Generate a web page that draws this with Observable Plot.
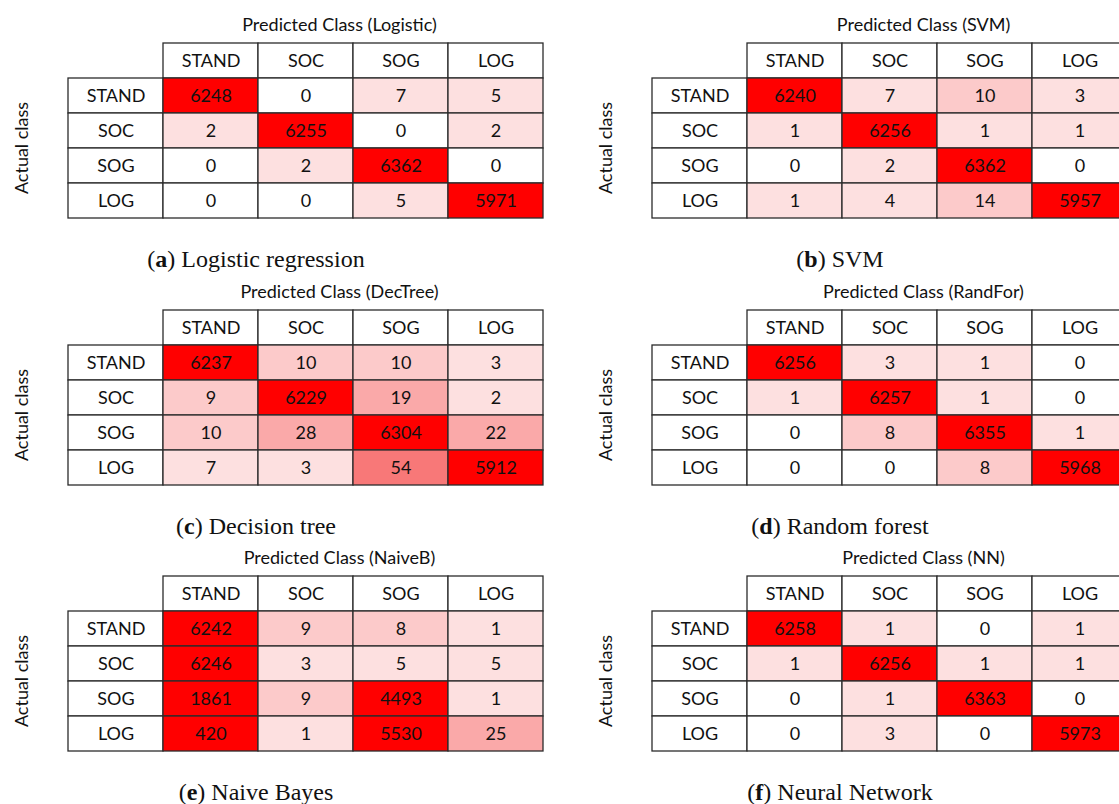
<!DOCTYPE html>
<html>
<head>
<meta charset="utf-8">
<script src="https://cdn.jsdelivr.net/npm/d3@7"></script>
<script src="https://cdn.jsdelivr.net/npm/@observablehq/plot@0.6"></script>
<style>
  html, body { margin: 0; padding: 0; background: #fff; width: 1119px; height: 804px; overflow: hidden; }
  .panel { position: absolute; width: 584px; }
  .panel svg { display: block; overflow: visible; }
  .caption {
    width: 512px; height: 38px; line-height: 38px; text-align: center;
    font-family: "Liberation Serif", serif; font-size: 24px; color: #111;
  }
</style>
</head>
<body>
<div id="root"></div>
<script>
// Class labels shared by every confusion matrix (rows = actual, columns = predicted)
const classes = ["STAND", "SOC", "SOG", "LOG"];

// Confusion matrices, one row per actual class
const logistic = [[6248, 0, 7, 5], [2, 6255, 0, 2], [0, 2, 6362, 0], [0, 0, 5, 5971]];
const svm      = [[6240, 7, 10, 3], [1, 6256, 1, 1], [0, 2, 6362, 0], [1, 4, 14, 5957]];
const decTree  = [[6237, 10, 10, 3], [9, 6229, 19, 2], [10, 28, 6304, 22], [7, 3, 54, 5912]];
const randFor  = [[6256, 3, 1, 0], [1, 6257, 1, 0], [0, 8, 6355, 1], [0, 0, 8, 5968]];
const naiveB   = [[6242, 9, 8, 1], [6246, 3, 5, 5], [1861, 9, 4493, 1], [420, 1, 5530, 25]];
const neuralNet = [[6258, 1, 0, 1], [1, 6256, 1, 1], [0, 1, 6363, 0], [0, 3, 0, 5973]];

// Short model names (column header titles) and subfigure captions
const shortNames = ["Logistic", "SVM", "DecTree", "RandFor", "NaiveB", "NN"];
const letters = ["a", "b", "c", "d", "e", "f"];
const captions = ["Logistic regression", "SVM", "Decision tree", "Random forest", "Naive Bayes", "Neural Network"];
const matrices = [logistic, svm, decTree, randFor, naiveB, neuralNet];

const font = "Lato, 'Open Sans', sans-serif";
const gridStroke = "#2b2b2b";

function panel(matrix, name) {
  const cells = matrix.flatMap((row, i) =>
    row.map((value, j) => ({actual: classes[i], predicted: classes[j], value})));
  const headers = classes.map(c => ({actual: "", predicted: c, label: c}))
    .concat(classes.map(c => ({actual: c, predicted: "", label: c})));

  return Plot.plot({
    width: 584,
    height: 240,
    marginLeft: 66,
    marginRight: 40,
    marginTop: 42.5,
    marginBottom: 22.5,
    style: {fontFamily: font, background: "transparent"},
    x: {domain: ["", ...classes], axis: null, padding: 0},
    y: {domain: ["", ...classes], axis: null, padding: 0},
    color: {
      type: "threshold",
      domain: [1, 8, 15, 40, 400],
      range: ["#ffffff", "#fde0e0", "#fccaca", "#faa9a9", "#f87878", "#ff0000"]
    },
    marks: [
      Plot.cell(headers, {x: "predicted", y: "actual", fill: "white", stroke: gridStroke, strokeWidth: 1.3}),
      Plot.cell(cells, {x: "predicted", y: "actual", fill: "value", stroke: gridStroke, strokeWidth: 1.3}),
      Plot.text(headers, {x: "predicted", y: "actual", text: "label", fontSize: 18, fill: "#111"}),
      Plot.text(cells, {x: "predicted", y: "actual", text: d => String(d.value), fontSize: 18, fill: "#111"}),
      Plot.text([`Predicted Class (${name})`], {
        frameAnchor: "top", dx: 34, dy: -17.5, lineAnchor: "middle", fontSize: 18, fill: "#111"
      }),
      Plot.text(["Actual class"], {
        frameAnchor: "left", dx: -44, dy: 17.5, rotate: -90, textAnchor: "middle", lineAnchor: "middle",
        fontSize: 18, fill: "#111"
      })
    ]
  });
}

const root = document.getElementById("root");
matrices.forEach((m, k) => {
  const div = document.createElement("div");
  div.className = "panel";
  div.style.left = (k % 2) * 584 + "px";
  div.style.top = Math.floor(k / 2) * 266.5 + "px";
  div.appendChild(panel(m, shortNames[k]));
  const cap = document.createElement("div");
  cap.className = "caption";
  cap.innerHTML = `(<b>${letters[k]}</b>) ${captions[k]}`;
  div.appendChild(cap);
  root.appendChild(div);
});
</script>
</body>
</html>
